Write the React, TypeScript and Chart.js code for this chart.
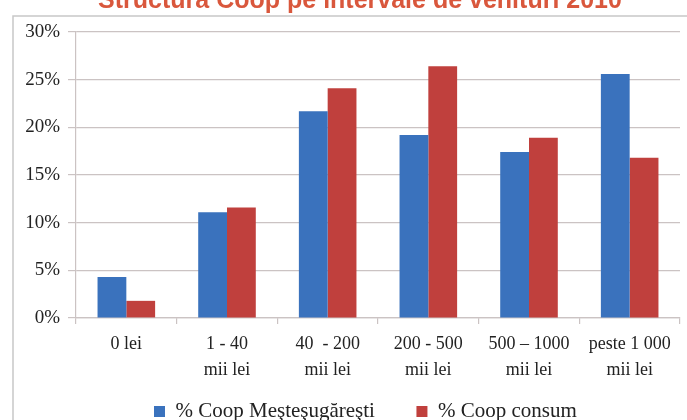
import React, { useEffect, useRef } from "react";
import { Chart, registerables } from "chart.js";

Chart.register(...registerables);

const categories: (string | string[])[] = [
  "0 lei",
  ["1 - 40", "mii lei"],
  ["40  - 200", "mii lei"],
  ["200 - 500", "mii lei"],
  ["500 \u2013 1000", "mii lei"],
  ["peste 1 000", "mii lei"],
];
const coopMestesugaresti = [4.3, 11.1, 21.7, 19.2, 17.4, 25.6];
const coopConsum = [1.8, 11.6, 24.1, 26.4, 18.9, 16.8];
const seriesNames = ["% Coop Meşteşugăreşti", "% Coop consum"];
const titleText = "Structura Coop pe intervale de venituri 2010";

const decorPlugin = {
  id: "decor",
  beforeDraw(chart: any) {
    const ctx = chart.ctx;
    ctx.save();
    ctx.fillStyle = "#ffffff";
    ctx.fillRect(0, 0, chart.width, chart.height);
    ctx.restore();
  },
  afterDraw(chart: any) {
    const ctx = chart.ctx;
    ctx.save();
    ctx.strokeStyle = "#c8c8c8";
    ctx.lineWidth = 1.5;
    ctx.strokeRect(13, 16, 800, 600);
    ctx.fillStyle = "#d9573c";
    ctx.font = "bold 25px 'Liberation Sans', Arial, sans-serif";
    ctx.textAlign = "center";
    ctx.textBaseline = "alphabetic";
    ctx.fillText(titleText, 360, 8);
    ctx.restore();
  },
};

export default function App() {
  const ref = useRef<HTMLCanvasElement | null>(null);
  useEffect(() => {
    if (!ref.current) return;
    const gridColor = "#cbc3c3";
    const chart = new Chart(ref.current, {
      type: "bar",
      data: {
        labels: categories as any,
        datasets: [
          {
            label: seriesNames[0],
            data: coopMestesugaresti,
            backgroundColor: "#3a72bd",
            categoryPercentage: 0.572,
            barPercentage: 1,
          },
          {
            label: seriesNames[1],
            data: coopConsum,
            backgroundColor: "#c0403d",
            categoryPercentage: 0.572,
            barPercentage: 1,
          },
        ],
      },
      options: {
        responsive: false,
        animation: false,
        devicePixelRatio: 1,
        layout: { padding: { top: 32, left: 14, right: 7, bottom: 0 } },
        plugins: {
          title: { display: false },
          tooltip: { enabled: false },
          legend: {
            position: "bottom",
            labels: {
              boxWidth: 11,
              boxHeight: 11,
              padding: 10,
              color: "#222222",
              font: { family: "'Liberation Serif', serif", size: 21 },
              generateLabels: (c: any) => {
                const items = (Chart as any).defaults.plugins.legend.labels.generateLabels(c);
                items[0].text = items[0].text + "      ";
                return [
                  {
                    text: " ",
                    fillStyle: "rgba(0,0,0,0)",
                    strokeStyle: "rgba(0,0,0,0)",
                    lineWidth: 0,
                    hidden: false,
                    datasetIndex: -1,
                  },
                  ...items,
                ];
              },
            },
          },
        },
        scales: {
          x: {
            afterFit: (scale: any) => {
              scale.height = 73;
            },
            grid: {
              drawOnChartArea: false,
              drawTicks: true,
              tickLength: 6,
              color: gridColor,
              lineWidth: 1.2,
            },
            border: { color: gridColor, width: 1.2 },
            ticks: {
              padding: 8,
              color: "#222222",
              maxRotation: 0,
              autoSkip: false,
              font: { family: "'Liberation Serif', serif", size: 18, lineHeight: 1.4 },
            },
          },
          y: {
            min: 0,
            max: 30,
            afterFit: (scale: any) => {
              scale.width = 62;
            },
            grid: {
              color: gridColor,
              lineWidth: 1.2,
              tickLength: 8,
              drawTicks: true,
            },
            border: { color: gridColor, width: 1.2 },
            ticks: {
              stepSize: 5,
              padding: 8,
              color: "#222222",
              font: { family: "'Liberation Serif', serif", size: 19 },
              callback: (v: any) => v + "%",
            },
          },
        },
      },
      plugins: [decorPlugin],
    });
    return () => chart.destroy();
  }, []);
  return (
    <div
      style={{
        position: "fixed",
        top: 0,
        left: 0,
        width: 687,
        height: 420,
        overflow: "hidden",
        background: "#fff",
      }}
    >
      <canvas ref={ref} width={687} height={432} style={{ display: "block" }} />
    </div>
  );
}
